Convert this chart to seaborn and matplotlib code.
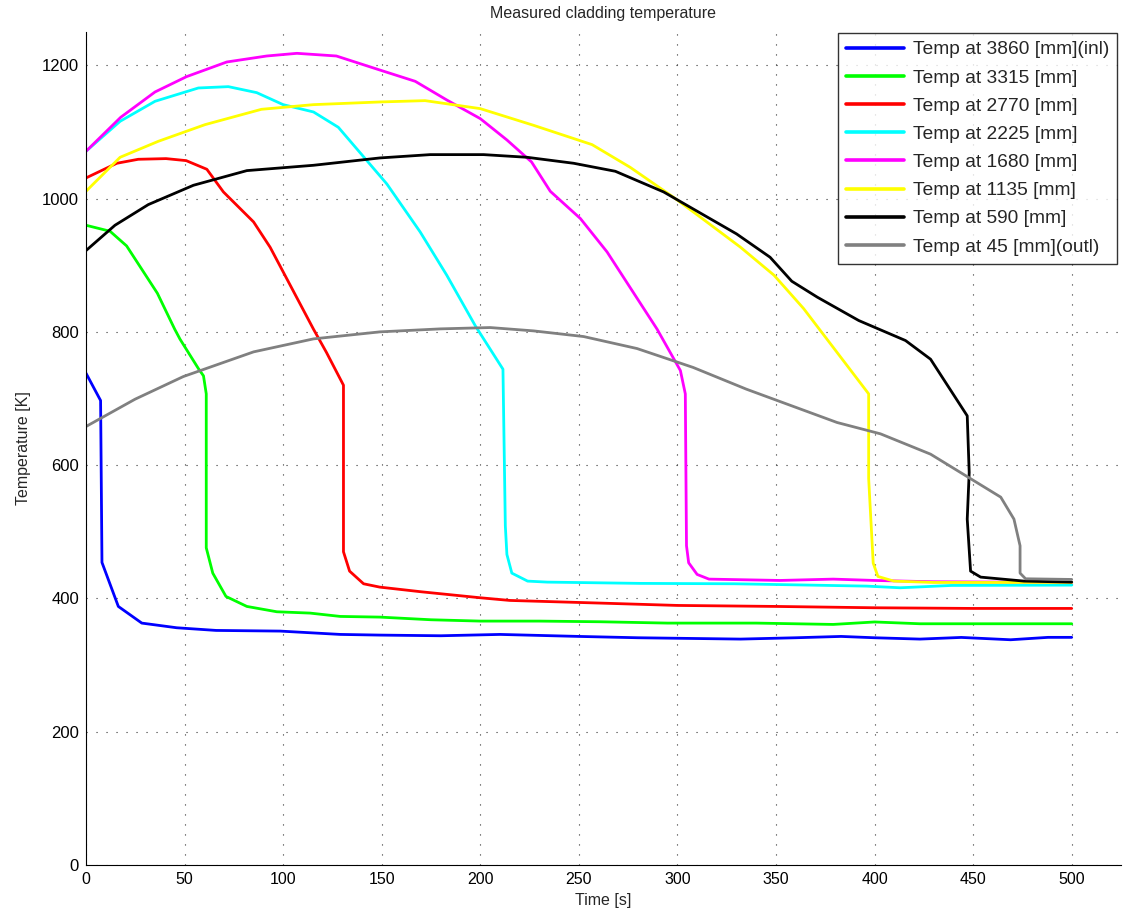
import matplotlib
matplotlib.use("Agg")
import matplotlib.pyplot as plt
import seaborn as sns
import pandas as pd

# Thermocouple positions and their trace colours
labels = [
    "Temp at 3860 [mm](inl)",
    "Temp at 3315 [mm]",
    "Temp at 2770 [mm]",
    "Temp at 2225 [mm]",
    "Temp at 1680 [mm]",
    "Temp at 1135 [mm]",
    "Temp at 590 [mm]",
    "Temp at 45 [mm](outl)",
]
colors = ["#0000ff", "#00ff00", "#ff0000", "#00ffff",
          "#ff00ff", "#ffff00", "#000000", "#808080"]

# Measured time [s] / temperature [K] per position
t_3860 = [0, 7.4, 8.1, 16.4, 28.3, 46, 66, 98.5, 129, 149, 180, 210, 250, 280,
          332, 360, 383, 400, 423, 444, 469, 488, 500]
T_3860 = [738, 697, 454, 388, 363, 356, 352, 351, 346, 345, 344, 346, 343, 341,
          339, 341, 343, 341, 339, 341.5, 338, 341.6, 341.6]

t_3315 = [0, 12.2, 20.6, 36.2, 45, 47.7, 57, 59.6, 61, 61, 64.3, 71, 81.6, 96.8,
          113.7, 129, 149, 175, 200, 230, 261, 295, 340, 379, 400, 423, 460, 500]
T_3315 = [960, 951, 929, 858, 804, 789, 745, 734, 707, 476, 438, 403, 388, 380,
          378, 373, 372, 368, 366, 366, 365, 363, 363, 361, 364.7, 362, 362, 362]

t_2770 = [0, 15.6, 26.5, 40.6, 50.8, 61.3, 69.7, 85, 93.4, 115.4, 122, 130.6,
          130.6, 133.7, 140.8, 149, 170, 200, 215, 261, 300, 350, 400, 450, 500]
T_2770 = [1031, 1053, 1059, 1060, 1057, 1044, 1010, 965, 927, 804, 769, 720,
          470, 441, 422, 417, 410, 401, 397, 393, 389.5, 388, 386, 385, 385]

t_2225 = [0, 17.3, 35, 57, 72.2, 86.6, 100, 115.4, 128, 152.6, 169.5, 183,
          197.5, 211.5, 212.7, 213.5, 216, 224, 234, 281, 329, 396, 413, 439, 500]
T_2225 = [1071, 1116, 1146, 1166, 1168, 1159, 1141, 1130, 1107, 1022, 950, 885,
          809, 744, 509, 466, 438, 426, 424.5, 422.6, 422, 418.5, 416, 419.5, 420]

t_1680 = [0, 17.6, 35, 51, 71.4, 91.7, 107, 127, 149, 167, 183, 200, 213.5,
          226, 235.5, 250.8, 264.3, 289.7, 301.5, 304, 304.6, 305.7, 310, 316,
          352, 379, 400, 430, 500]
T_1680 = [1071, 1122, 1160, 1183, 1205, 1214, 1218, 1214, 1193, 1176, 1148,
          1120, 1088, 1055, 1011, 970, 920, 804, 742, 707, 479, 453.5, 436, 429,
          427, 429, 427, 425, 424]

t_1135 = [0, 17.3, 36.7, 60.4, 89, 115.4, 149, 172, 200, 227, 256.7, 276, 298,
          311.7, 332, 349, 364, 397, 397, 399.3, 401.7, 409.8, 430, 500]
T_1135 = [1011, 1062, 1086, 1111, 1134, 1141, 1145, 1147, 1135, 1110, 1081,
          1047, 1002, 972, 927, 885, 835, 707, 580, 453, 433, 426, 424, 424]

t_590 = [0, 14.7, 31.6, 54.5, 81.6, 115.4, 149, 174.6, 201.7, 223.7, 247.4,
         268.5, 293, 330, 347, 358, 371, 392, 415.7, 428.4, 447, 448, 447,
         448.7, 453.8, 475.8, 500]
T_590 = [922, 960, 991, 1020, 1042, 1050, 1061, 1066, 1066, 1062, 1053, 1041,
         1010, 947, 912, 876, 852, 817, 787, 759, 674, 589, 519, 441, 432, 426,
         424.5]

t_45 = [0, 24.9, 49.4, 85, 115.4, 149, 179.7, 205, 227, 252.4, 279.5, 308, 335,
        381, 403, 428.4, 464, 470.7, 473.8, 473.8, 476.6, 500]
T_45 = [658, 699, 733, 770, 789.5, 800, 804.5, 806.5, 801.5, 793, 775, 746.6,
        714, 664, 647, 616.5, 552, 519, 479, 438, 429.5, 428.5]

times = [t_3860, t_3315, t_2770, t_2225, t_1680, t_1135, t_590, t_45]
temps = [T_3860, T_3315, T_2770, T_2225, T_1680, T_1135, T_590, T_45]

frames = []
for lab, t, T in zip(labels, times, temps):
    frames.append(pd.DataFrame({"time": t, "temp": T, "location": lab}))
df = pd.concat(frames, ignore_index=True)

sns.set_theme(style="white")
plt.rcParams["font.family"] = ["Liberation Sans", "DejaVu Sans"]

fig = plt.figure(figsize=(11.24, 9.17), dpi=100)
ax = fig.add_axes([86 / 1124, 1 - 865 / 917, (1121 - 86) / 1124, (865 - 32) / 917])

sns.lineplot(data=df, x="time", y="temp", hue="location", hue_order=labels,
             palette=colors, sort=False, estimator=None, linewidth=2.0, ax=ax)

ax.set_xlim(0, 525)
ax.set_ylim(0, 1250)
ax.set_xticks(range(0, 501, 50))
ax.set_yticks(range(0, 1201, 200))
ax.tick_params(direction="in", length=5, width=0.8, colors="black",
               labelsize=11.5, pad=5)
ax.tick_params(axis="y", labelsize=12)
ax.grid(True, color="0.2", linestyle=(0, (1, 8)), linewidth=0.8)
for side in ["top", "right"]:
    ax.spines[side].set_visible(False)
for side in ["left", "bottom"]:
    ax.spines[side].set_color("black")
    ax.spines[side].set_linewidth(0.8)

ax.set_xlabel("Time [s]", fontsize=11.5, labelpad=4)
ax.set_ylabel("Temperature [K]", fontsize=11.5, labelpad=8)
ax.set_title("Measured cladding temperature", fontsize=11.5, pad=10)

leg = ax.legend(loc="upper right", bbox_to_anchor=(1117 / 1124, 1 - 33 / 917),
                bbox_transform=fig.transFigure, borderaxespad=0, fontsize=13.8,
                frameon=True, fancybox=False, edgecolor="black",
                handlelength=3.0, handletextpad=0.45, labelspacing=0.56,
                borderpad=0.42)
leg.get_frame().set_linewidth(1.0)
for line in leg.get_lines():
    line.set_linewidth(2.6)

fig.savefig("out.png", dpi=100)
